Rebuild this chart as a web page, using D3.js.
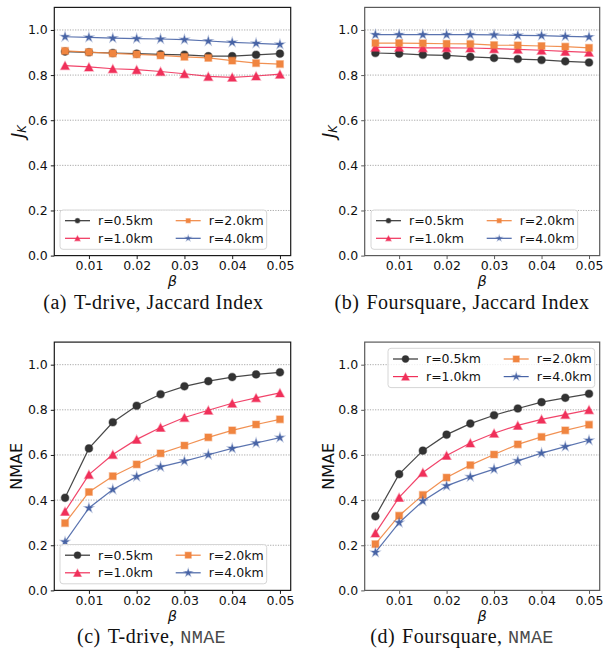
<!DOCTYPE html>
<html>
<head>
<meta charset="utf-8">
<script src="https://cdn.jsdelivr.net/npm/d3@7"></script>
<style>
  body { margin: 0; background: #fff; }
  svg { display: block; }
</style>
</head>
<body>
<svg id="fig" width="606" height="651"></svg>
<script>
// ---- data -------------------------------------------------------------
const beta = [0.005, 0.01, 0.015, 0.02, 0.025, 0.03, 0.035, 0.04, 0.045, 0.05];
const xTicks = [0.01, 0.02, 0.03, 0.04, 0.05];
const yTicks = [0.0, 0.2, 0.4, 0.6, 0.8, 1.0];
const seriesNames = ["r=0.5km", "r=1.0km", "r=2.0km", "r=4.0km"];
const seriesColors = ["#333333", "#f0305a", "#f08540", "#4864a6"];
const seriesSymbols = ["circle", "triangle", "square", "star"];

// (a) T-drive, Jaccard index
const tdriveJac05 = [0.904, 0.901, 0.898, 0.895, 0.892, 0.890, 0.884, 0.884, 0.890, 0.895];
const tdriveJac10 = [0.842, 0.836, 0.828, 0.824, 0.816, 0.806, 0.794, 0.790, 0.796, 0.804];
const tdriveJac20 = [0.907, 0.902, 0.896, 0.892, 0.887, 0.881, 0.876, 0.864, 0.853, 0.849];
const tdriveJac40 = [0.970, 0.967, 0.964, 0.962, 0.960, 0.957, 0.951, 0.945, 0.941, 0.936];

// (b) Foursquare, Jaccard index
const fsqJac05 = [0.898, 0.895, 0.890, 0.887, 0.881, 0.876, 0.871, 0.867, 0.861, 0.856];
const fsqJac10 = [0.923, 0.923, 0.921, 0.921, 0.920, 0.917, 0.914, 0.910, 0.905, 0.901];
const fsqJac20 = [0.942, 0.942, 0.941, 0.939, 0.938, 0.933, 0.932, 0.929, 0.926, 0.921];
const fsqJac40 = [0.979, 0.979, 0.979, 0.979, 0.979, 0.978, 0.976, 0.975, 0.972, 0.969];

// (c) T-drive, NMAE
const tdriveNmae05 = [0.410, 0.629, 0.745, 0.818, 0.869, 0.904, 0.927, 0.945, 0.957, 0.966];
const tdriveNmae10 = [0.350, 0.513, 0.602, 0.669, 0.722, 0.766, 0.798, 0.829, 0.853, 0.875];
const tdriveNmae20 = [0.298, 0.436, 0.506, 0.558, 0.607, 0.642, 0.678, 0.709, 0.735, 0.758];
const tdriveNmae40 = [0.215, 0.365, 0.447, 0.504, 0.547, 0.573, 0.601, 0.629, 0.653, 0.677];

// (d) Foursquare, NMAE
const fsqNmae05 = [0.328, 0.515, 0.619, 0.690, 0.739, 0.776, 0.806, 0.834, 0.853, 0.871];
const fsqNmae10 = [0.254, 0.412, 0.522, 0.598, 0.653, 0.696, 0.731, 0.758, 0.779, 0.800];
const fsqNmae20 = [0.205, 0.331, 0.423, 0.500, 0.555, 0.602, 0.647, 0.680, 0.709, 0.734];
const fsqNmae40 = [0.168, 0.300, 0.396, 0.463, 0.503, 0.537, 0.574, 0.608, 0.637, 0.665];

// ---- layout -----------------------------------------------------------
const panels = [
  { left: 54.3, top: 7.4, right: 290.7, bottom: 255.6, frame: "#1a1a1a",
    series: [tdriveJac05, tdriveJac10, tdriveJac20, tdriveJac40],
    ylabel: "jk", ylabelX: 18, legend: { x: 60, y: 210, mscale: 0.62 },
    caption: ["(a)", "T-drive, Jaccard Index", null], capX: 153.4 },
  { left: 364.7, top: 7.4, right: 599.7, bottom: 255.6, frame: "#5a5a5a",
    series: [fsqJac05, fsqJac10, fsqJac20, fsqJac40],
    ylabel: "jk", ylabelX: 329, legend: { x: 371, y: 210, mscale: 0.62 },
    caption: ["(b)", "Foursquare, Jaccard Index", null], capX: 462 },
  { left: 54.3, top: 342.1, right: 290.7, bottom: 590.4, frame: "#1a1a1a",
    series: [tdriveNmae05, tdriveNmae10, tdriveNmae20, tdriveNmae40],
    ylabel: "NMAE", ylabelX: 16, legend: { x: 60, y: 544.5, mscale: 0.9 },
    caption: ["(c)", "T-drive, ", "NMAE"], capX: 151.5 },
  { left: 364.7, top: 342.1, right: 599.7, bottom: 590.4, frame: "#5a5a5a",
    series: [fsqNmae05, fsqNmae10, fsqNmae20, fsqNmae40],
    ylabel: "NMAE", ylabelX: 328, legend: { x: 388, y: 348.3, mscale: 0.9 },
    caption: ["(d)", "Foursquare, ", "NMAE"], capX: 462 }
];

const sans = "'DejaVu Sans', sans-serif";
const serif = "'Liberation Serif', 'Times New Roman', serif";
const mono = "'Liberation Mono', 'DejaVu Sans Mono', monospace";

// marker path generator, sized like matplotlib markers (k = scale factor)
function markerPath(type, k) {
  if (type === "circle") {
    return d3.symbol(d3.symbolCircle, Math.PI * Math.pow(3.8 * k, 2))();
  }
  if (type === "square") {
    const h = 3.4 * k;
    return `M${-h},${-h}L${h},${-h}L${h},${h}L${-h},${h}Z`;
  }
  if (type === "triangle") {
    const w = 4.3 * k, h = 4.0 * k;
    return `M0,${-h}L${-w},${h}L${w},${h}Z`;
  }
  // five-pointed star
  const R = 4.4 * k, r = R * 0.382;
  let p = "";
  for (let i = 0; i < 10; i++) {
    const rad = i % 2 === 0 ? R : r;
    const a = -Math.PI / 2 + i * Math.PI / 5;
    p += (i === 0 ? "M" : "L") + (rad * Math.cos(a)).toFixed(2) + "," + (rad * Math.sin(a)).toFixed(2);
  }
  return p + "Z";
}

const svg = d3.select("#fig");

panels.forEach(P => {
  const x = d3.scaleLinear().domain([0.00275, 0.05225]).range([P.left, P.right]);
  const y = d3.scaleLinear().domain([0, 1.1]).range([P.bottom, P.top]);
  const g = svg.append("g");

  // horizontal dotted grid
  g.append("g").selectAll("line")
    .data(yTicks.filter(t => t > 0))
    .join("line")
    .attr("x1", P.left).attr("x2", P.right)
    .attr("y1", d => y(d)).attr("y2", d => y(d))
    .attr("stroke", "#a8a8a8").attr("stroke-width", 1)
    .attr("stroke-dasharray", "1.2,1.4");

  // axes
  const xAxis = d3.axisBottom(x).tickValues(xTicks).tickFormat(d3.format(".2f"))
    .tickSizeInner(3.5).tickSizeOuter(0).tickPadding(2.5);
  const yAxis = d3.axisLeft(y).tickValues(yTicks).tickFormat(d3.format(".1f"))
    .tickSizeInner(3.5).tickSizeOuter(0).tickPadding(3);
  const gx = g.append("g").attr("transform", `translate(0,${P.bottom})`).call(xAxis);
  const gy = g.append("g").attr("transform", `translate(${P.left},0)`).call(yAxis);
  [gx, gy].forEach(a => {
    a.select(".domain").remove();
    a.selectAll("line").attr("stroke", P.frame).attr("stroke-width", 1);
    a.selectAll("text").attr("font-family", sans).attr("font-size", 12.5).attr("fill", "#111");
  });

  // series lines and markers
  P.series.forEach((vals, i) => {
    const pts = beta.map((b, j) => [b, vals[j]]);
    g.append("path")
      .attr("d", d3.line().x(d => x(d[0])).y(d => y(d[1]))(pts))
      .attr("fill", "none").attr("stroke", seriesColors[i])
      .attr("stroke-width", 1.2).attr("stroke-opacity", 0.9);
    g.append("g").selectAll("path")
      .data(pts).join("path")
      .attr("transform", d => `translate(${x(d[0])},${y(d[1])})`)
      .attr("d", markerPath(seriesSymbols[i], 1))
      .attr("fill", seriesColors[i])
      .attr("stroke", seriesColors[i]).attr("stroke-opacity", 0.4).attr("stroke-width", 1.4);
  });

  // frame
  g.append("rect")
    .attr("x", P.left).attr("y", P.top)
    .attr("width", P.right - P.left).attr("height", P.bottom - P.top)
    .attr("fill", "none").attr("stroke", P.frame).attr("stroke-width", 1.2);

  // x label
  g.append("text")
    .attr("x", (P.left + P.right) / 2).attr("y", P.bottom + 30.5)
    .attr("text-anchor", "middle")
    .attr("font-family", sans).attr("font-style", "italic").attr("font-size", 14.5)
    .attr("fill", "#111")
    .text("β");

  // y label
  const cy = (P.top + P.bottom) / 2;
  const yl = g.append("text")
    .attr("transform", `translate(${P.ylabelX},${cy}) rotate(-90)`)
    .attr("text-anchor", "middle").attr("dominant-baseline", "central")
    .attr("font-family", sans).attr("font-size", 16).attr("fill", "#111");
  if (P.ylabel === "jk") {
    yl.append("tspan").attr("font-style", "italic").attr("font-size", 17).text("J");
    yl.append("tspan").attr("font-style", "italic").attr("font-size", 11.5)
      .attr("dy", 4).text("K");
  } else {
    yl.text(P.ylabel);
  }

  // legend (two columns)
  const L = P.legend, lw = 206.7, lh = 39.3;
  const lg = g.append("g").attr("transform", `translate(${L.x},${L.y})`);
  lg.append("rect").attr("width", lw).attr("height", lh).attr("rx", 3)
    .attr("fill", "#fff").attr("fill-opacity", 0.8)
    .attr("stroke", "#d6d6d6").attr("stroke-width", 1);
  const slots = [[0, 0], [0, 1], [1, 0], [1, 1]]; // [col,row]
  seriesNames.forEach((name, i) => {
    const [c, r] = slots[i];
    const hx = 5 + c * 110.7, hy = 10.7 + r * 17.6;
    lg.append("line").attr("x1", hx).attr("x2", hx + 25).attr("y1", hy).attr("y2", hy)
      .attr("stroke", seriesColors[i]).attr("stroke-width", 1.2);
    lg.append("path").attr("transform", `translate(${hx + 12.5},${hy})`)
      .attr("d", markerPath(seriesSymbols[i], L.mscale))
      .attr("fill", seriesColors[i])
      .attr("stroke", seriesColors[i]).attr("stroke-opacity", 0.4).attr("stroke-width", 1.2);
    lg.append("text").attr("x", hx + 33).attr("y", hy)
      .attr("dominant-baseline", "central")
      .attr("font-family", sans).attr("font-size", 12.5).attr("fill", "#111")
      .text(name);
  });

  // caption below the panel
  const cap = svg.append("text")
    .attr("x", P.capX).attr("y", P.bottom + 53).attr("text-anchor", "middle")
    .attr("font-family", serif).attr("font-size", 20).attr("letter-spacing", 0.5)
    .attr("fill", "#111");
  cap.append("tspan").text(P.caption[0]);
  cap.append("tspan").attr("dx", 7).text(P.caption[1]);
  if (P.caption[2]) {
    cap.append("tspan").attr("font-family", mono).attr("font-size", 18.5)
      .attr("letter-spacing", 0.3).attr("fill", "#4a4a4a").text(P.caption[2]);
  }
});
</script>
</body>
</html>
